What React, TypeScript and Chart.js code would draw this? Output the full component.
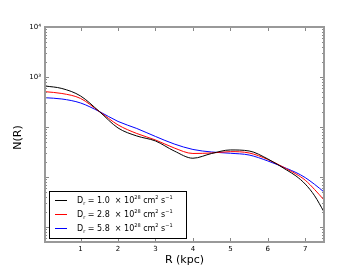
import React, { useEffect, useRef } from "react";
import { Chart, registerables } from "chart.js";

Chart.register(...registerables);

const radius = [0.05, 0.5, 1, 1.5, 2, 2.5, 3, 3.5, 4, 4.5, 5, 5.5, 6, 6.5, 6.75, 7, 7.25, 7.5];
const nD10 = [661, 589, 417, 204, 95.5, 66.1, 52.5, 33.1, 23.7, 29.5, 34.7, 33.1, 22.9, 13.8, 10.5, 7.2, 4.2, 2.0];
const nD28 = [508, 468, 372, 204, 110, 74.1, 55, 38, 29.5, 30.2, 32.1, 30.2, 22.4, 14.5, 11.5, 8.6, 5.6, 3.47];
const nD58 = [385, 363, 302, 204, 129, 93.3, 64.6, 45.7, 35.5, 31.6, 29.8, 27.5, 20.9, 14.8, 12.3, 9.7, 7.1, 5.01];
const diffusion = ["1.0", "2.8", "5.8"];
const colors = ["#000000", "#ff0000", "#0000ff"];
const xTicks = [1, 2, 3, 4, 5, 6, 7];
const yLabelTicks = [1000, 10000];
const xTitle = "R (kpc)";
const yTitle = "N(R)";

const FONT = "'DejaVu Sans', sans-serif";

const decorPlugin = {
  id: "decor",
  afterDatasetsDraw(chart: any) {
    const { ctx, chartArea: a, scales } = chart;
    const xs = scales.x;
    const ys = scales.y;
    ctx.save();
    // ticks
    ctx.strokeStyle = "#888";
    ctx.lineWidth = 1;
    ctx.beginPath();
    xTicks.forEach((v) => {
      const px = Math.round(xs.getPixelForValue(v)) + 0.5;
      ctx.moveTo(px, a.bottom);
      ctx.lineTo(px, a.bottom - 4);
      ctx.moveTo(px, a.top);
      ctx.lineTo(px, a.top + 4);
    });
    for (let e = -1; e <= 4; e++) {
      for (let m = 1; m <= 9; m++) {
        const v = m * Math.pow(10, e);
        if (v < ys.min || v > ys.max) continue;
        const py = Math.round(ys.getPixelForValue(v)) + 0.5;
        const len = m === 1 ? 4 : 2;
        ctx.moveTo(a.left, py);
        ctx.lineTo(a.left + len, py);
        ctx.moveTo(a.right, py);
        ctx.lineTo(a.right - len, py);
      }
    }
    ctx.stroke();
    // frame
    ctx.strokeStyle = "#999";
    ctx.lineWidth = 2;
    ctx.strokeRect(a.left, a.top, a.right - a.left, a.bottom - a.top);

    // axis titles
    ctx.fillStyle = "#000";
    ctx.font = `11px ${FONT}`;
    ctx.textAlign = "center";
    ctx.textBaseline = "middle";
    ctx.fillText(xTitle, (a.left + a.right) / 2, a.bottom + 18);
    ctx.save();
    ctx.translate(a.left - 27, (a.top + a.bottom) / 2 + 3);
    ctx.rotate(-Math.PI / 2);
    ctx.fillText(yTitle, 0, 0);
    ctx.restore();

    // legend
    const lx = a.left + 4;
    const ly = a.top + 164;
    const lw = 137;
    const lh = 47;
    ctx.fillStyle = "#fff";
    ctx.fillRect(lx, ly, lw, lh);
    ctx.strokeStyle = "#000";
    ctx.lineWidth = 1;
    ctx.strokeRect(lx + 0.5, ly + 0.5, lw, lh);
    diffusion.forEach((d, i) => {
      const ry = ly + 9 + i * 14;
      ctx.strokeStyle = colors[i];
      ctx.lineWidth = 1;
      ctx.beginPath();
      ctx.moveTo(lx + 6, ry + 0.5);
      ctx.lineTo(lx + 18, ry + 0.5);
      ctx.stroke();
      ctx.fillStyle = "#000";
      ctx.textAlign = "left";
      ctx.textBaseline = "alphabetic";
      const base = ry + 3;
      let x = lx + 28;
      const part = (t: string, size: number, dy: number) => {
        ctx.font = `${size}px ${FONT}`;
        ctx.fillText(t, x, base + dy);
        x += ctx.measureText(t).width;
      };
      part("D", 8, 0);
      part("r", 5, 2);
      part(` = ${d}  \u00d7 10`, 8, 0);
      part("28", 5, -4);
      part(" cm", 8, 0);
      part("2", 5, -4);
      part(" s", 8, 0);
      part("\u22121", 5, -4);
    });
    ctx.restore();
  },
};

export default function App() {
  const ref = useRef<HTMLCanvasElement | null>(null);
  useEffect(() => {
    if (!ref.current) return;
    const series = [nD10, nD28, nD58];
    const chart = new Chart(ref.current, {
      type: "line",
      data: {
        datasets: series.map((s, i) => ({
          label: diffusion[i],
          data: radius.map((r, j) => ({ x: r, y: s[j] })),
          borderColor: colors[i],
          borderWidth: 1,
          pointRadius: 0,
          cubicInterpolationMode: "monotone",
          fill: false,
        })),
      },
      options: {
        animation: false,
        responsive: false,
        layout: { padding: { top: 27, right: 36, left: 0, bottom: 0 } },
        plugins: { legend: { display: false }, tooltip: { enabled: false } },
        scales: {
          x: {
            type: "linear",
            min: 0.05,
            max: 7.5,
            grid: { display: false, drawTicks: false },
            border: { display: false },
            afterBuildTicks: (s: any) => {
              s.ticks = xTicks.map((v) => ({ value: v }));
            },
            afterFit: (s: any) => {
              s.height = 28;
            },
            ticks: {
              padding: 3,
              color: "#000",
              font: { family: FONT, size: 7 },
              maxRotation: 0,
              callback: (v: any) => String(v),
            },
          },
          y: {
            type: "logarithmic",
            min: 0.5,
            max: 10000,
            grid: { display: false, drawTicks: false },
            border: { display: false },
            afterBuildTicks: (s: any) => {
              s.ticks = yLabelTicks.map((v) => ({ value: v }));
            },
            afterFit: (s: any) => {
              s.width = 45;
            },
            ticks: {
              padding: 4,
              color: "#000",
              font: { family: FONT, size: 7 },
              callback: (v: any) => (Number(v) === 10000 ? "10\u2074" : "10\u00b3"),
            },
          },
        },
      },
      plugins: [decorPlugin],
    } as any);
    return () => chart.destroy();
  }, []);
  return (
    <div style={{ position: "fixed", left: 0, top: 0, width: 360, height: 270, background: "#fff" }}>
      <canvas ref={ref} width={360} height={270} style={{ width: 360, height: 270 }} />
    </div>
  );
}
